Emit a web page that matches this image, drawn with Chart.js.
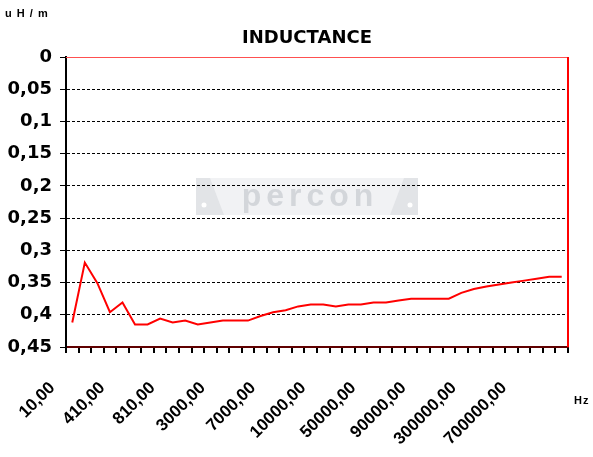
<!DOCTYPE html>
<html>
<head>
<meta charset="utf-8">
<script src="https://cdn.jsdelivr.net/npm/chart.js@4"></script>
<style>
html,body{margin:0;padding:0;background:#fff;}
#c{display:block;}
</style>
</head>
<body>
<canvas id="c" width="593" height="457"></canvas>
<script>
// ---- data ----
const frequencies = [10,110,210,310,410,510,610,710,810,910,
  1000,2000,3000,4000,5000,6000,7000,8000,9000,9500,
  10000,20000,30000,40000,50000,60000,70000,80000,90000,95000,
  100000,200000,300000,400000,500000,600000,700000,800000,900000,1000000];
const inductance = [0.412,0.319,0.351,0.396,0.381,0.415,0.415,0.406,0.412,0.409,
  0.415,0.412,0.409,0.409,0.409,0.402,0.396,0.393,0.387,0.384,
  0.384,0.387,0.384,0.384,0.381,0.381,0.378,0.375,0.375,0.375,
  0.375,0.366,0.360,0.356,0.353,0.350,0.347,0.344,0.341,0.341];
const yTicks = [0,0.05,0.1,0.15,0.2,0.25,0.3,0.35,0.4,0.45];
const labelEvery = 4;
const titleText = 'INDUCTANCE';
const unitY = 'u H / m';
const unitX = 'Hz';
const watermark = 'percon';

const categories = frequencies.map(f => f.toFixed(2).replace('.', ','));

const textPlugin = {
  id: 'texts',
  beforeDraw(chart) {
    const ctx = chart.ctx;
    ctx.save();
    ctx.fillStyle = '#fff';
    ctx.fillRect(0, 0, chart.width, chart.height);
    // watermark banner
    ctx.fillStyle = '#f1f2f4';
    ctx.fillRect(196, 178, 222, 37);
    ctx.fillStyle = '#e2e4e7';
    ctx.beginPath(); ctx.moveTo(196,178); ctx.lineTo(210,178); ctx.lineTo(224,215); ctx.lineTo(196,215); ctx.closePath(); ctx.fill();
    ctx.beginPath(); ctx.moveTo(418,178); ctx.lineTo(404,178); ctx.lineTo(390,215); ctx.lineTo(418,215); ctx.closePath(); ctx.fill();
    ctx.fillStyle = '#ffffff';
    ctx.beginPath(); ctx.arc(204,205,2.5,0,Math.PI*2); ctx.fill();
    ctx.beginPath(); ctx.arc(410,205,2.5,0,Math.PI*2); ctx.fill();
    ctx.fillStyle = '#d3d6da';
    ctx.font = 'bold 32px "Liberation Sans", Arial, sans-serif';
    try { ctx.letterSpacing = '5px'; } catch(e) {}
    ctx.textAlign = 'center';
    ctx.textBaseline = 'alphabetic';
    ctx.fillText(watermark, 310, 206);
    ctx.restore();
  },
  afterDraw(chart) {
    const ctx = chart.ctx;
    const a = chart.chartArea;
    ctx.save();
    // red frame lines (top & right)
    ctx.strokeStyle = '#ff5050';
    ctx.lineWidth = 1;
    ctx.beginPath(); ctx.moveTo(a.left, a.top + 0.5); ctx.lineTo(a.right, a.top + 0.5); ctx.stroke();
    ctx.strokeStyle = '#ff0000';
    ctx.lineWidth = 2;
    ctx.beginPath(); ctx.moveTo(a.right, a.top); ctx.lineTo(a.right, a.bottom); ctx.stroke();
    // texts
    ctx.fillStyle = '#000';
    ctx.textBaseline = 'alphabetic';
    ctx.font = 'bold 18px "DejaVu Sans", sans-serif';
    ctx.textAlign = 'center';
    ctx.fillText(titleText, 307, 43);
    ctx.font = 'bold 11px "Liberation Sans", Arial, sans-serif';
    ctx.textAlign = 'left';
    try { ctx.letterSpacing = '1px'; } catch(e) {}
    ctx.fillText(unitY, 5, 17);
    ctx.fillText(unitX, 574, 404);
    ctx.restore();
  }
};

new Chart(document.getElementById('c'), {
  type: 'line',
  data: {
    labels: categories,
    datasets: [{
      data: inductance,
      borderColor: '#ff0000',
      borderWidth: 2,
      pointRadius: 0,
      tension: 0,
      fill: false
    }]
  },
  options: {
    responsive: false,
    animation: false,
    devicePixelRatio: 1,
    layout: { padding: { top: 57, right: 25, left: 0, bottom: 0 } },
    plugins: { legend: { display: false }, tooltip: { enabled: false }, title: { display: false } },
    scales: {
      x: {
        type: 'category',
        offset: true,
        afterFit(s) { s.height = 110; s.paddingLeft = 0; s.paddingRight = 0; },
        grid: { display: true, offset: true, drawOnChartArea: false, drawTicks: true, tickLength: 6, color: '#000', lineWidth: 2 },
        border: { display: true, color: '#600000', width: 2 },
        ticks: {
          autoSkip: false,
          minRotation: 45,
          maxRotation: 45,
          padding: 25,
          labelOffset: -20,
          color: '#000',
          font: { family: '"Liberation Sans", Arial, sans-serif', size: 17, weight: 'bold' },
          callback(v, i) { return i % labelEvery === 0 ? categories[i] : ''; }
        }
      },
      y: {
        reverse: true,
        min: yTicks[0],
        max: yTicks[yTicks.length - 1],
        afterFit(s) { s.width = 66; },
        afterBuildTicks(s) { s.ticks = yTicks.map(v => ({ value: v })); },
        grid: { color: '#000', lineWidth: 1, tickLength: 6, tickColor: '#000', tickBorderDash: [] },
        border: { display: true, color: '#000', width: 2, dash: [3, 2] },
        ticks: {
          padding: 8,
          color: '#000',
          font: { family: '"DejaVu Sans", sans-serif', size: 18, weight: 'bold' },
          callback(v) { return String(+Number(v).toFixed(2)).replace('.', ','); }
        }
      }
    }
  },
  plugins: [textPlugin]
});
</script>
</body>
</html>
